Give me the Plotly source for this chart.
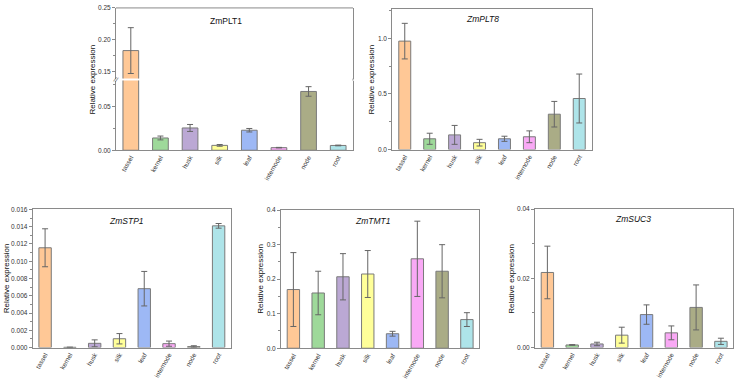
import plotly.graph_objects as go

tissues = ["tassel", "kernel", "husk", "silk", "leaf", "internode", "node", "root"]
colors = ["#FFC896", "#9ED99A", "#BBA8D4", "#FFFF99", "#9DB8F5", "#F9A9F5", "#AAAC86", "#AEE4E9"]

plt1_mean = [0.183, 0.0141, 0.0256, 0.0056, 0.0230, 0.0030, 0.0675, 0.0055]
plt1_err = [0.036, 0.0022, 0.0040, 0.0010, 0.0020, 0.0003, 0.0055, 0.0004]

plt8_mean = [0.975, 0.097, 0.132, 0.062, 0.097, 0.115, 0.318, 0.459]
plt8_err = [0.160, 0.050, 0.085, 0.030, 0.023, 0.053, 0.115, 0.220]

stp1_mean = [0.01156, 0.00003, 0.00049, 0.00102, 0.00682, 0.00045, 0.00011, 0.01410]
stp1_err = [0.00220, 0.00001, 0.00040, 0.00060, 0.00200, 0.00030, 0.00010, 0.00027]

tmt1_mean = [0.170, 0.160, 0.207, 0.215, 0.042, 0.259, 0.223, 0.083]
tmt1_err = [0.107, 0.063, 0.067, 0.068, 0.007, 0.109, 0.077, 0.020]

suc3_mean = [0.0217, 0.00075, 0.00104, 0.00358, 0.00953, 0.00425, 0.0116, 0.0018]
suc3_err = [0.0076, 0.0001, 0.0005, 0.0023, 0.0028, 0.0020, 0.0065, 0.0009]

W, H = 736, 380
FONT = "Arial, Liberation Sans, sans-serif"
LINE = "#8a8a8a"


def px_x(a, b):
    return [a / W, b / W]


def px_y(bottom, top):
    return [1 - bottom / H, 1 - top / H]


fig = go.Figure()


def add_bars(mean, err, xa, ya, width=0.5):
    fig.add_trace(go.Bar(
        x=tissues, y=mean, xaxis=xa, yaxis=ya, width=width,
        marker=dict(color=colors, line=dict(color="#7a7a7a", width=1)),
        error_y=dict(type="data", array=err, color="#666666", thickness=1, width=3),
        showlegend=False, hoverinfo="x+y",
    ))


add_bars(plt1_mean, plt1_err, "x", "y", 0.53)
add_bars(plt1_mean, plt1_err, "x6", "y6", 0.53)
add_bars(plt8_mean, plt8_err, "x2", "y2", 0.48)
add_bars(stp1_mean, stp1_err, "x3", "y3", 0.5)
add_bars(tmt1_mean, tmt1_err, "x4", "y4", 0.5)
add_bars(suc3_mean, suc3_err, "x5", "y5", 0.5)

tickfont = dict(family=FONT, size=6.5, color="#333333")
titlefont = dict(family=FONT, size=8, color="#111111")

xcommon = dict(range=[-0.5, 7.5], showline=True, linecolor=LINE, linewidth=1,
               ticks="", tickangle=-60, tickfont=tickfont, showgrid=False, zeroline=False,
               fixedrange=True, mirror=True)
ycommon = dict(showline=True, linecolor=LINE, linewidth=1, mirror=True,
               ticks="outside", ticklen=3, tickcolor=LINE, tickfont=tickfont,
               showgrid=False, zeroline=False)


def minor(vals):
    return dict(ticks="outside", ticklen=2, tickcolor=LINE, tickvals=vals)


layout = dict(
    width=W, height=H, margin=dict(l=0, r=0, t=0, b=0),
    plot_bgcolor="white", paper_bgcolor="white",
    font=dict(family=FONT), bargap=0.5,
)

# ZmPLT1 (broken axis)
layout["xaxis"] = dict(xcommon, domain=px_x(116, 353), anchor="y", mirror=False)
layout["yaxis"] = dict(ycommon, domain=px_y(149, 78), anchor="x", range=[0, 0.08],
                       tickvals=[0, 0.05], ticktext=["0.00", "0.05"],
                       minor=minor([0.025, 0.075]))
layout["xaxis6"] = dict(xcommon, domain=px_x(116, 353), anchor="y6",
                        showticklabels=False, showline=False, mirror=False)
layout["yaxis6"] = dict(ycommon, domain=px_y(76, 4), anchor="x6", range=[0.139, 0.25],
                        tickvals=[0.15, 0.20, 0.25], ticktext=["0.15", "0.20", "0.25"],
                        minor=minor([0.175, 0.225]))

# ZmPLT8
layout["xaxis2"] = dict(xcommon, domain=px_x(392.3, 591.7), anchor="y2")
layout["yaxis2"] = dict(ycommon, domain=px_y(148.3, 5.3), anchor="x2", range=[0, 1.262],
                        tickvals=[0, 0.5, 1.0], ticktext=["0.0", "0.5", "1.0"],
                        minor=minor([0.25, 0.75, 1.25]))

# ZmSTP1
layout["xaxis3"] = dict(xcommon, domain=px_x(32.7, 231), anchor="y3")
layout["yaxis3"] = dict(ycommon, domain=px_y(350, 209.3), anchor="x3", range=[0, 0.016],
                        tickvals=[i * 0.002 for i in range(9)],
                        ticktext=["%.3f" % (i * 0.002) for i in range(9)],
                        minor=minor([0.001 + i * 0.002 for i in range(8)]))

# ZmTMT1
layout["xaxis4"] = dict(xcommon, domain=px_x(281, 479.3), anchor="y4")
layout["yaxis4"] = dict(ycommon, domain=px_y(350.7, 210), anchor="x4", range=[0, 0.4],
                        tickvals=[0, 0.1, 0.2, 0.3, 0.4],
                        ticktext=["0.0", "0.1", "0.2", "0.3", "0.4"],
                        minor=minor([0.05, 0.15, 0.25, 0.35]))

# ZmSUC3
layout["xaxis5"] = dict(xcommon, domain=px_x(535, 733.3), anchor="y5")
layout["yaxis5"] = dict(ycommon, domain=px_y(350, 209), anchor="x5", range=[0, 0.04],
                        tickvals=[0, 0.02, 0.04], ticktext=["0.00", "0.02", "0.04"],
                        minor=minor([0.01, 0.03]))

fig.update_layout(**layout)

# frame pieces for the broken-axis panel
fig.add_shape(type="line", xref="x domain", yref="y6 domain", x0=0, x1=1, y0=1, y1=1,
              line=dict(color=LINE, width=1))
fig.add_shape(type="line", xref="x domain", yref="paper", x0=1, x1=1,
              y0=1 - 78 / H, y1=1 - 76 / H, line=dict(color=LINE, width=1))

annotations = []


def title(text, xpx, ypx, italic=True):
    t = "<i>%s</i>" % text if italic else text
    annotations.append(dict(text=t, x=xpx / W, y=1 - ypx / H, xref="paper", yref="paper",
                            showarrow=False, font=dict(family=FONT, size=8.5, color="#111"),
                            xanchor="center", yanchor="middle"))


def ytitle(xpx, ypx):
    annotations.append(dict(text="Relative expression", x=xpx / W, y=1 - ypx / H,
                            xref="paper", yref="paper", showarrow=False, textangle=-90,
                            font=titlefont, xanchor="center", yanchor="middle"))


title("ZmPLT1", 225.7, 17.3, italic=False)
title("ZmPLT8", 482, 15.7)
title("ZmSTP1", 126, 221)
title("ZmTMT1", 372.7, 220.7)
title("ZmSUC3", 633, 219)

ytitle(93, 77)
ytitle(372, 77)
ytitle(6.5, 280)
ytitle(261, 280)
ytitle(512, 280)

# axis break marker
annotations.append(dict(text="//", x=116 / W, y=1 - 77 / H, xref="paper", yref="paper",
                        showarrow=False, font=dict(family=FONT, size=7, color="#666"),
                        xanchor="center", yanchor="middle", textangle=20))

fig.update_layout(annotations=annotations)

fig.write_html("out.html")
